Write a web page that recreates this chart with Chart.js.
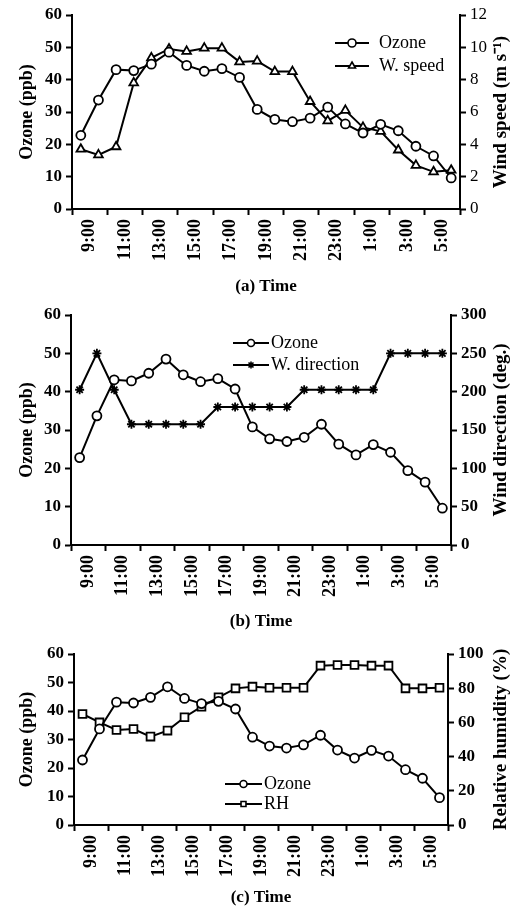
<!DOCTYPE html>
<html>
<head>
<meta charset="utf-8">
<script src="https://cdn.jsdelivr.net/npm/chart.js@4.4.0/dist/chart.umd.min.js"></script>
<style>
    body { margin: 0; background: #fff; width: 510px; height: 911px; overflow: hidden; position: relative; }
    canvas { position: absolute; left: 0; }
</style>
</head>
<body>
<canvas id="graficoA" width="510" height="300" style="top:0px"></canvas>
<canvas id="graficoB" width="510" height="335" style="top:300px"></canvas>
<canvas id="graficoC" width="510" height="276" style="top:635px"></canvas>
<script>
// Rótulos do eixo X (a cada 2 horas)
var rotulosHoras = ['9:00', '11:00', '13:00', '15:00', '17:00', '19:00', '21:00', '23:00', '1:00', '3:00', '5:00'];

// Ozônio (ppb) - igual nos três gráficos
var ozonio = [22.8, 33.7, 43.1, 42.8, 44.8, 48.5, 44.4, 42.6, 43.4, 40.7, 30.8, 27.7, 27.0, 28.1, 31.5, 26.3, 23.5, 26.2, 24.2, 19.4, 16.4, 9.6];

// Velocidade do vento (m/s)
var velocidadeVento = [3.7, 3.35, 3.85, 7.8, 9.35, 9.9, 9.75, 9.95, 9.95, 9.1, 9.15, 8.5, 8.5, 6.65, 5.45, 6.1, 5.05, 4.8, 3.65, 2.7, 2.3, 2.4];

// Direção do vento (graus)
var direcaoVento = [202.5, 250, 202.5, 157.5, 157.5, 157.5, 157.5, 157.5, 180, 180, 180, 180, 180, 202.5, 202.5, 202.5, 202.5, 202.5, 250, 250, 250, 250];

// Umidade relativa (%)
var umidade = [64.9, 60.0, 55.6, 56.1, 51.7, 55.2, 63.0, 69.2, 74.7, 79.9, 80.9, 80.3, 80.3, 80.3, 93.2, 93.6, 93.6, 93.2, 93.2, 79.9, 79.9, 80.3];

var fonte = "'Liberation Serif', 'Times New Roman', serif";
Chart.defaults.font.family = fonte;
Chart.defaults.color = '#000';

// Transformar a lista em pontos {x, y}
function pontos(lista) {
    return lista.map(function (valor, i) {
        return { x: i, y: valor };
    });
}

// Ticks do eixo X: marcas nos limites, rótulos no meio
function ticksEixoX(eixo) {
    var lista = [];
    for (var i = 0; i <= ozonio.length; i++) {
        lista.push({ value: i - 0.5 });
    }
    eixo.ticks = lista;
}

// Legenda desenhada à mão (linha + marcador + texto)
var legendaManual = {
    id: 'legendaManual',
    afterDraw: function (chart, args, opts) {
        var ctx = chart.ctx;
        ctx.save();
        chart.data.datasets.forEach(function (ds, i) {
            var y = opts.y + i * opts.passo;
            ctx.strokeStyle = '#000';
            ctx.lineWidth = 2;
            ctx.beginPath();
            ctx.moveTo(opts.x, y);
            ctx.lineTo(opts.x + opts.largura, y);
            ctx.stroke();
            ctx.fillStyle = '#fff';
            ctx.lineWidth = 1.6;
            Chart.helpers.drawPoint(ctx, {
                pointStyle: ds.pointStyle,
                radius: opts.raio,
                borderWidth: 1.6,
                rotation: 0
            }, opts.x + opts.largura / 2, y);
            ctx.fillStyle = '#000';
            ctx.font = '18px ' + fonte;
            ctx.textBaseline = 'middle';
            ctx.textAlign = 'left';
            ctx.fillText(ds.label, opts.x + opts.largura + opts.espaco, y);
        });
        ctx.restore();
    }
};

// Título do eixo da direita (lido de baixo para cima)
var tituloDireita = {
    id: 'tituloDireita',
    afterDraw: function (chart, args, opts) {
        var ctx = chart.ctx;
        var area = chart.chartArea;
        ctx.save();
        ctx.translate(opts.x, (area.top + area.bottom) / 2);
        ctx.rotate(-Math.PI / 2);
        ctx.font = 'bold 19px ' + fonte;
        ctx.fillStyle = '#000';
        ctx.textAlign = 'center';
        ctx.textBaseline = 'middle';
        ctx.fillText(opts.texto, 0, 0);
        ctx.restore();
    }
};

function criarGrafico(id, op) {
    var ctx = document.getElementById(id).getContext('2d');
    return new Chart(ctx, {
        type: 'line',
        data: {
            datasets: [{
                label: 'Ozone',
                data: pontos(ozonio),
                yAxisID: 'y',
                borderColor: '#000',
                borderWidth: 2,
                pointStyle: 'circle',
                pointRadius: 4.5,
                pointBorderWidth: 1.8,
                pointBackgroundColor: '#fff',
                pointBorderColor: '#000',
                tension: 0
            }, {
                label: op.rotuloSerie,
                data: pontos(op.serie),
                yAxisID: 'y2',
                borderColor: '#000',
                borderWidth: 2,
                pointStyle: op.marcador,
                pointRadius: op.raio,
                pointBorderWidth: 1.8,
                pointBackgroundColor: '#fff',
                pointBorderColor: '#000',
                tension: 0
            }]
        },
        options: {
            responsive: false,
            animation: false,
            layout: { padding: { top: op.topo, left: 0, right: 0, bottom: 0 } },
            plugins: {
                legend: { display: false },
                tooltip: { enabled: false },
                legendaManual: op.legenda,
                tituloDireita: { x: 501, texto: op.tituloY2 }
            },
            scales: {
                x: {
                    type: 'linear',
                    min: -0.5,
                    max: ozonio.length - 0.5,
                    afterBuildTicks: ticksEixoX,
                    afterFit: function (s) { s.height = op.alturaX; },
                    border: { display: true, color: '#000', width: 2 },
                    grid: {
                        drawOnChartArea: false,
                        tickLength: 6,
                        tickWidth: 2,
                        tickColor: function (c) {
                            return c.index % 2 === 0 ? '#000' : 'rgba(0,0,0,0)';
                        }
                    },
                    ticks: {
                        autoSkip: false,
                        minRotation: 90,
                        maxRotation: 90,
                        padding: 4,
                        font: { size: 18, weight: 'bold' },
                        callback: function (valor, indice) {
                            return indice % 2 === 1 ? rotulosHoras[(indice - 1) / 2] : '';
                        }
                    },
                    title: {
                        display: true,
                        text: op.tituloX,
                        font: { size: 17, weight: 'bold' },
                        padding: { top: 0, bottom: 3 }
                    }
                },
                y: {
                    position: 'left',
                    min: 0,
                    max: 60,
                    afterFit: function (s) { s.width = op.esquerda; },
                    border: { display: true, color: '#000', width: 2 },
                    grid: { drawOnChartArea: false, tickLength: 6, tickWidth: 2, tickColor: '#000' },
                    ticks: { stepSize: 10, padding: 4, font: { size: 17, weight: 'bold' } },
                    title: {
                        display: true,
                        text: 'Ozone (ppb)',
                        font: { size: 18, weight: 'bold' },
                        padding: { top: 17, bottom: 0 }
                    }
                },
                y2: {
                    position: 'right',
                    min: 0,
                    max: op.maxY2,
                    afterFit: function (s) { s.width = 510 - op.direita; },
                    border: { display: true, color: '#000', width: 2 },
                    grid: { drawOnChartArea: false, tickLength: 6, tickWidth: 2, tickColor: '#000' },
                    ticks: { stepSize: op.passoY2, padding: 4, font: { size: 17, weight: op.pesoY2 } }
                }
            }
        },
        plugins: [legendaManual, tituloDireita]
    });
}

// (a) Ozônio x velocidade do vento
criarGrafico('graficoA', {
    serie: velocidadeVento,
    rotuloSerie: 'W. speed',
    marcador: 'triangle',
    raio: 5,
    maxY2: 12,
    passoY2: 2,
    pesoY2: 'normal',
    tituloY2: 'Wind speed (m s\u207B\u00B9)',
    tituloX: '(a) Time',
    topo: 15,
    alturaX: 91,
    esquerda: 72,
    direita: 460,
    legenda: { x: 335, y: 43, passo: 23, largura: 34, espaco: 10, raio: 4 }
});

// (b) Ozônio x direção do vento
criarGrafico('graficoB', {
    serie: direcaoVento,
    rotuloSerie: 'W. direction',
    marcador: 'star',
    raio: 4.5,
    maxY2: 300,
    passoY2: 50,
    pesoY2: 'bold',
    tituloY2: 'Wind direction (deg.)',
    tituloX: '(b) Time',
    topo: 15,
    alturaX: 90,
    esquerda: 71,
    direita: 451,
    legenda: { x: 233, y: 43, passo: 22, largura: 36, espaco: 2, raio: 3.5 }
});

// (c) Ozônio x umidade relativa
criarGrafico('graficoC', {
    serie: umidade,
    rotuloSerie: 'RH',
    marcador: 'rect',
    raio: 5.5,
    maxY2: 100,
    passoY2: 20,
    pesoY2: 'bold',
    tituloY2: 'Relative humidity (%)',
    tituloX: '(c) Time',
    topo: 19,
    alturaX: 86,
    esquerda: 74,
    direita: 448,
    legenda: { x: 225, y: 149, passo: 20, largura: 37, espaco: 2, raio: 3.5 }
});
</script>
</body>
</html>
